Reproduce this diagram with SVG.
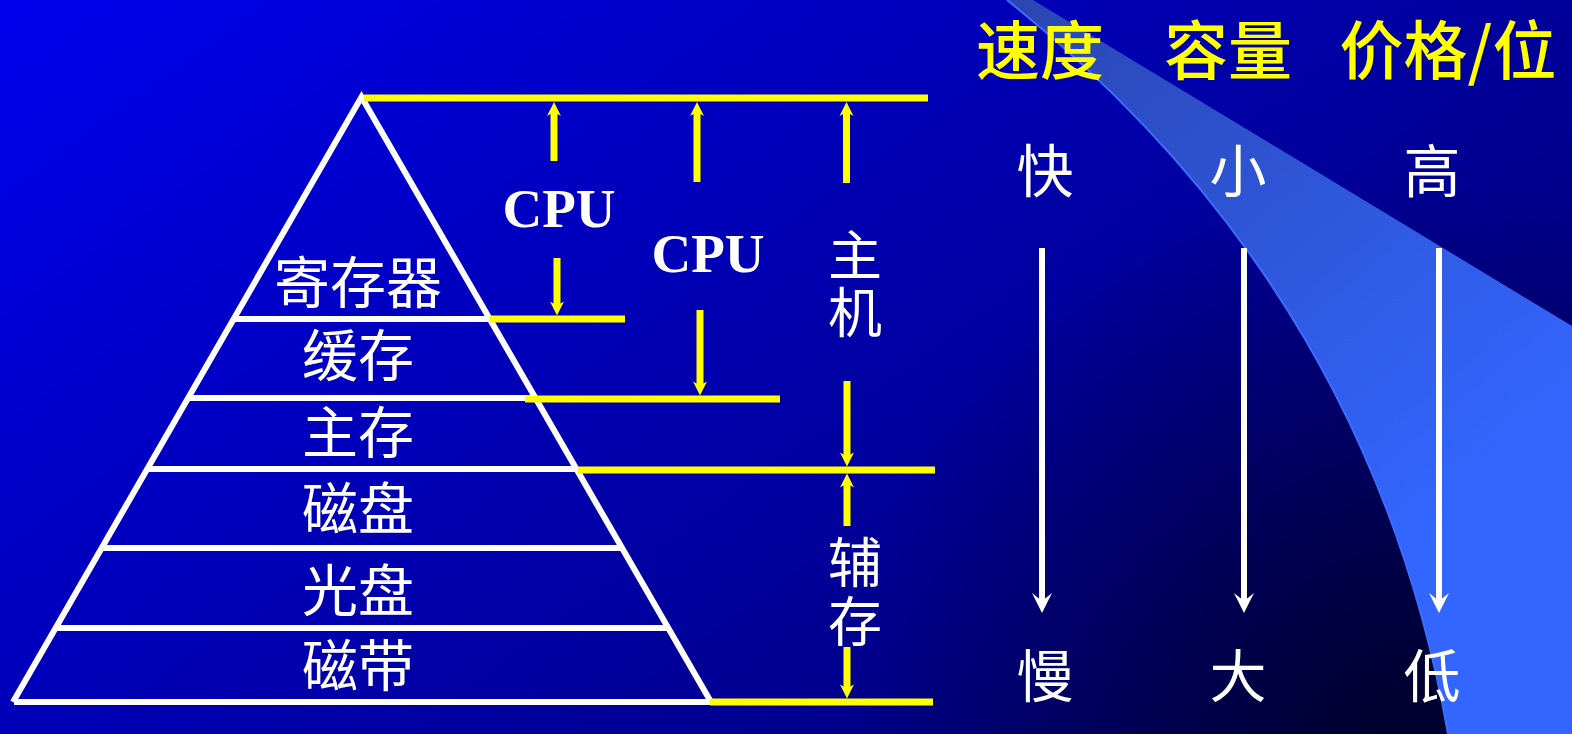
<svg xmlns="http://www.w3.org/2000/svg" width="1572" height="734" viewBox="0 0 1572 734">
  <style>
    .wl { stroke: #ffffff; stroke-width: 6; fill: none; }
    .yl { stroke: #ffff00; stroke-width: 7; fill: none; }
    .ys { stroke: #ffff00; stroke-width: 7; fill: none; }
    .yh { fill: #ffff00; }
    .ws { stroke: #ffffff; stroke-width: 6; fill: none; }
    .wh { fill: #ffffff; }
    .cjk { font-family: "Noto Sans CJK SC", "Noto Sans", sans-serif; fill: #ffffff; text-anchor: middle; }
    .lvl { font-size: 56px; }
    .side { font-size: 54px; writing-mode: vertical-rl; }
    .head { font-size: 64px; fill: #ffff00; font-weight: 500; }
    .val { font-size: 57px; }
    .cpu { font-family: "Liberation Serif", "Times New Roman", serif; font-weight: bold; font-size: 55px; fill: #ffffff; text-anchor: middle; }
  </style>
  <defs>
    <linearGradient id="bg" gradientUnits="userSpaceOnUse" x1="0" y1="0" x2="891" y2="1230">
      <stop offset="0" stop-color="#0000ee"/>
      <stop offset="1" stop-color="#000064"/>
    </linearGradient>
    <radialGradient id="dark" gradientUnits="userSpaceOnUse" cx="1400" cy="734" r="560">
      <stop offset="0" stop-color="#000000" stop-opacity="0.6"/>
      <stop offset="1" stop-color="#000000" stop-opacity="0"/>
    </radialGradient>
    <linearGradient id="sw" gradientUnits="userSpaceOnUse" x1="1010" y1="0" x2="1450" y2="520">
      <stop offset="0" stop-color="#2a46b2"/>
      <stop offset="1" stop-color="#3366ff"/>
    </linearGradient>
    <path id="ahY" d="M0,0 L-7,-14 L0,-10 L7,-14 Z"/>
    <path id="ahW" d="M0,0 L-10,-20 L0,-12 L10,-20 Z"/>
  </defs>

  <g id="background">
    <rect x="0" y="0" width="1572" height="734" fill="url(#bg)"/>
    <rect x="0" y="0" width="1572" height="734" fill="url(#dark)"/>
    <path d="M1007,0 Q1370,290 1448,734 L1572,734 L1572,326 L1033,0 Z" fill="url(#sw)"/>
    <path d="M1007,0 Q1370,290 1448,734" fill="none" stroke="#3d6cff" stroke-width="2"/>
  </g>

  <g id="pyramid">
    <path class="wl" d="M13,702 L361.5,97 L711,702" stroke-linejoin="miter"/>
    <line class="wl" x1="233.6" y1="319" x2="490" y2="319"/>
    <line class="wl" x1="188" y1="398" x2="535.7" y2="398"/>
    <line class="wl" x1="147.1" y1="469" x2="576.8" y2="469"/>
    <line class="wl" x1="101.6" y1="548" x2="622.5" y2="548"/>
    <line class="wl" x1="55.5" y1="628" x2="668.8" y2="628"/>
    <line class="wl" x1="14" y1="702" x2="711" y2="702"/>
  </g>

  <g id="level-register"><text class="cjk lvl" x="358" y="303">寄存器</text></g>
  <g id="level-cache"><text class="cjk lvl" x="358" y="376">缓存</text></g>
  <g id="level-main"><text class="cjk lvl" x="358" y="453">主存</text></g>
  <g id="level-disk"><text class="cjk lvl" x="358" y="529">磁盘</text></g>
  <g id="level-optical"><text class="cjk lvl" x="358" y="611">光盘</text></g>
  <g id="level-tape"><text class="cjk lvl" x="358" y="686">磁带</text></g>

  <g id="label-cpu1"><text class="cpu" x="559" y="227">CPU</text></g>
  <g id="label-cpu2"><text class="cpu" x="708" y="272">CPU</text></g>
  <g id="label-host"><text class="cjk side" x="855" y="285" letter-spacing="2.5">主机</text></g>
  <g id="label-aux"><text class="cjk side" x="855" y="594" letter-spacing="4.5">辅存</text></g>

  <g id="header">
    <text class="cjk head" x="1040" y="74">速度</text>
    <text class="cjk head" x="1228" y="74">容量</text>
    <text class="cjk head" x="1448" y="74">价格/位</text>
  </g>
  <g id="speed"><text class="cjk val" x="1045" y="192">快</text><text class="cjk val" x="1045" y="697">慢</text></g>
  <g id="capacity"><text class="cjk val" x="1238" y="192">小</text><text class="cjk val" x="1238" y="697">大</text></g>
  <g id="price"><text class="cjk val" x="1432" y="192">高</text><text class="cjk val" x="1432" y="697">低</text></g>

  <g id="connectors">
    <line class="yl" x1="364" y1="98" x2="928" y2="98"/>
    <line class="yl" x1="489" y1="319" x2="625" y2="319"/>
    <line class="yl" x1="525" y1="399" x2="780" y2="399"/>
    <line class="yl" x1="578" y1="470" x2="935" y2="470"/>
    <line class="yl" x1="710" y1="702" x2="933" y2="702"/>

    <line class="ys" x1="554" y1="161" x2="554" y2="110"/>
    <use href="#ahY" class="yh" transform="translate(554,102) rotate(180)"/>
    <line class="ys" x1="557" y1="258" x2="557" y2="307"/>
    <use href="#ahY" class="yh" transform="translate(557,315.5)"/>

    <line class="ys" x1="697" y1="182" x2="697" y2="110"/>
    <use href="#ahY" class="yh" transform="translate(697,102) rotate(180)"/>
    <line class="ys" x1="700" y1="310" x2="700" y2="387"/>
    <use href="#ahY" class="yh" transform="translate(700,395.5)"/>

    <line class="ys" x1="846.5" y1="183" x2="846.5" y2="110"/>
    <use href="#ahY" class="yh" transform="translate(846.5,102) rotate(180)"/>
    <line class="ys" x1="847" y1="381" x2="847" y2="458"/>
    <use href="#ahY" class="yh" transform="translate(847,466.5)"/>

    <line class="ys" x1="847" y1="526" x2="847" y2="482"/>
    <use href="#ahY" class="yh" transform="translate(847,473.5) rotate(180)"/>
    <line class="ys" x1="847" y1="647" x2="847" y2="690"/>
    <use href="#ahY" class="yh" transform="translate(847,698.5)"/>

    <line class="ws" x1="1042" y1="248" x2="1042" y2="602"/>
    <use href="#ahW" class="wh" transform="translate(1042,613)"/>
    <line class="ws" x1="1244" y1="248" x2="1244" y2="602"/>
    <use href="#ahW" class="wh" transform="translate(1244,613)"/>
    <line class="ws" x1="1439" y1="248" x2="1439" y2="602"/>
    <use href="#ahW" class="wh" transform="translate(1439,613)"/>
  </g>
</svg>
